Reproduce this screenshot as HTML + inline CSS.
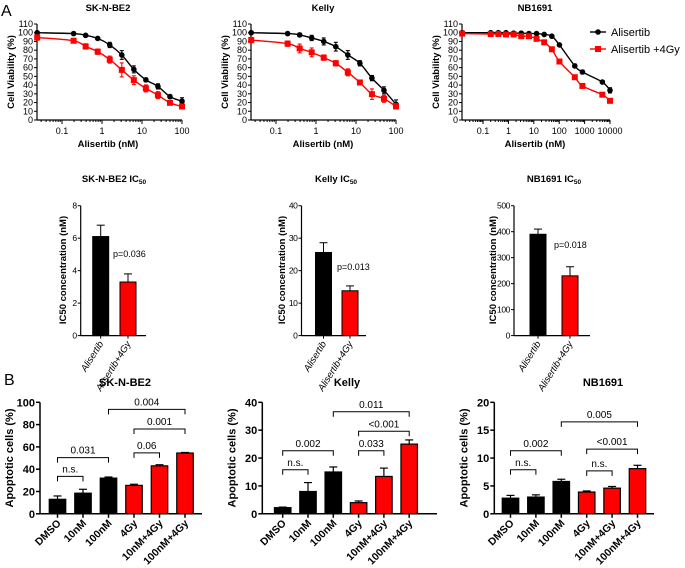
<!DOCTYPE html>
<html><head><meta charset="utf-8"><style>
html,body{margin:0;padding:0;background:#fff;}
svg{display:block;font-family:"Liberation Sans",Arial,sans-serif;}
</style></head><body>
<svg id="fig" width="685" height="568" viewBox="0 0 685 568" xmlns="http://www.w3.org/2000/svg"></svg>
<script>
// ---------- Panel A top: dose-response data ----------
const skDoses=[0.024,0.195,0.39,0.78,1.56,3.125,6.25,12.5,25,50,100];
const skBlack=[100,99,97,93.5,86,74.5,58,46,38.5,26.8,21.5];
const skBlackErr=[1,1,1,1.5,3,5,4,2,3,2,4];
const skRed=[94.5,90.8,84.3,78.3,69.2,57.4,45.6,36.2,28.5,19.7,15.5];
const skRedErr=[3,2,3,3,4,8,5,4,4,2,2];
const kellyDoses=[0.024,0.195,0.39,0.78,1.56,3.125,6.25,12.5,25,50,100];
const kellyBlack=[100,99,97.5,94,90,84,74.5,65,48,34,18];
const kellyBlackErr=[1,1,2,3,4,5,5,3,3,4,5];
const kellyRed=[91.6,87.5,82,77.5,71.5,65,54.6,43,29.6,24.3,15.7];
const kellyRedErr=[3,3,5,5,3,3,4,2,6,4,3];
const nbDoses=[0.015,0.2,0.4,0.8,1.6,3.2,6.4,12.8,25.6,51.2,102,410,820,5000,10000];
const nbBlack=[100,100,100,100,99.5,99.5,99,99,98,96,86,62,55,43.5,34];
const nbBlackErr=[1,1,1,1,1,1,1,1,1,1,1,2,2,1,3];
const nbRed=[99,98.5,98.5,98,98,96,96,93,89,81,67,49,39,29,22];
const nbRedErr=[1,1,1,1,1,1,1,1,1,1,1,2,2,1,1];
const vTicks=[0,10,20,30,40,50,60,70,80,90,100,110];
const skDecades=[0.1,1,10,100];
const nbDecades=[0.1,1,10,100,1000,10000];

// ---------- IC50 data ----------
const icGroups=["Alisertib","Alisertib+4Gy"];
const icSK=[6.1,3.3]; const icSKErr=[0.7,0.5]; const icSKTicks=[0,2,4,6,8];
const icKelly=[25.6,13.8]; const icKellyErr=[3,1.5]; const icKellyTicks=[0,10,20,30,40];
const icNB=[390,230]; const icNBErr=[20,35]; const icNBTicks=[0,100,200,300,400,500];

// ---------- Panel B apoptosis data ----------
const apGroups=["DMSO","10nM","100nM","4Gy","10nM+4Gy","100nM+4Gy"];
const apSK=[13,18.5,32,25.5,43,54.5]; const apSKErr=[3,3.5,1,1,1,0.5];
const apSKTicks=[0,20,40,60,80,100];
const apSKBr=[[0,1,33.6,"n.s."],[0,2,50.4,"0.031"],[3,4,54.6,"0.06"],[3,5,76,"0.001"],[2,5,93.7,"0.004"]];
const apKelly=[2.2,8,15,4,13.4,25]; const apKellyErr=[0.2,3.2,1.8,0.6,3,1.5];
const apKellyTicks=[0,10,20,30,40];
const apKellyBr=[[0,1,15.8,"n.s."],[0,2,22.6,"0.002"],[3,4,22.6,"0.033"],[3,5,29.6,"<0.001"],[2,5,36.6,"0.011"]];
const apNB=[2.8,3.0,5.8,3.9,4.6,8.1]; const apNBErr=[0.5,0.4,0.4,0.2,0.3,0.6];
const apNBTicks=[0,5,10,15,20];
const apNBBr=[[0,1,7.9,"n.s."],[0,2,11.3,"0.002"],[3,4,7.7,"n.s."],[3,5,11.6,"<0.001"],[2,5,16.5,"0.005"]];

const NS='http://www.w3.org/2000/svg';
const svg=document.getElementById('fig');
function add(tag,attrs,nm,parent){
  const el=document.createElementNS(NS,tag);
  for(const k in attrs) el.setAttribute(k,attrs[k]);
  
  
  (parent||svg).appendChild(el);
  return el;
}
function txt(x,y,s,size,extra,nm){
  const a=Object.assign({x:x,y:y,'font-size':size,fill:'#000'},extra||{});
  const t=add('text',a,nm);
  t.textContent=s;
  return t;
}
function line(x1,y1,x2,y2,nm,w,c){
  return add('line',{x1:x1,y1:y1,x2:x2,y2:y2,stroke:c||'#000','stroke-width':w||1},nm);
}
function smooth(p){
  let d='M'+p[0][0]+','+p[0][1];
  for(let i=0;i<p.length-1;i++){
    const p0=p[Math.max(i-1,0)],p1=p[i],p2=p[i+1],p3=p[Math.min(i+2,p.length-1)];
    d+=' C'+(p1[0]+(p2[0]-p0[0])/6)+','+(p1[1]+(p2[1]-p0[1])/6)+' '+(p2[0]-(p3[0]-p1[0])/6)+','+(p2[1]-(p3[1]-p1[1])/6)+' '+p2[0]+','+p2[1];
  }
  return d;
}

// ---------- Dose-response panel ----------
function drawDR(c){
  const yTop=24,yBot=120;
  const lmin=Math.log10(c.vmin),lmax=Math.log10(c.vmax);
  const X=v=>c.x0+(Math.log10(v)-lmin)/(lmax-lmin)*(c.x1-c.x0);
  const Y=v=>yBot-(v/110)*(yBot-yTop);
  line(c.x0,yTop,c.x0,yBot,'y-axis',1.2);
  line(c.x0,yBot,c.x1,yBot,'x-axis',1.2);
  vTicks.forEach(v=>{
    line(c.x0-3,Y(v),c.x0,Y(v),'y-tick');
    txt(c.x0-4,Y(v)+3,String(v),9,{'text-anchor':'end'},'y-tick-label');
  });
  for(let e=Math.floor(lmin);e<=lmax;e++){
    for(let m=1;m<10;m++){
      const v=m*Math.pow(10,e);
      if(v<c.vmin||v>c.vmax*1.001) continue;
      line(X(v),yBot,X(v),yBot+(m==1?4:2),'x-tick');
    }
  }
  c.decades.forEach(v=>txt(X(v),yBot+14,String(v),9,{'text-anchor':'middle'},'x-tick-label'));
  txt(c.tx,11,c.title,9.5,{'font-weight':'bold','text-anchor':'middle'},'chart-title');
  txt(c.tx,147,'Alisertib (nM)',9.5,{'font-weight':'bold','text-anchor':'middle'},'x-axis-title');
  txt(0,0,'Cell Viability (%)',9.5,{'font-weight':'bold','text-anchor':'middle',transform:'translate('+(c.x0-23)+',72) rotate(-90)'},'y-axis-title');
  [[c.black,c.blackErr,'#000','black'],[c.red,c.redErr,'#f00','red']].forEach(s=>{
    const pts=c.doses.map((d,i)=>[X(d),Y(s[0][i])]);
    add('path',{d:smooth(pts),fill:'none',stroke:s[2],'stroke-width':1.4},s[3]+'-fit-curve');
    c.doses.forEach((d,i)=>{
      const x=X(d),v=s[0][i],e=s[1][i];
      line(x,Y(v+e),x,Y(v-e),s[3]+'-error-bar',1.1,s[2]);
      line(x-2,Y(v+e),x+2,Y(v+e),s[3]+'-error-cap',1.1,s[2]);
      line(x-2,Y(v-e),x+2,Y(v-e),s[3]+'-error-cap',1.1,s[2]);
      if(s[3]=='black') add('circle',{cx:x,cy:Y(v),r:2.8,fill:'#000'},'black-point');
      else add('rect',{x:x-3,y:Y(v)-3,width:6,height:6,fill:'#f00'},'red-point');
    });
  });
}
drawDR({x0:37,x1:182,vmin:0.0237,vmax:100,doses:skDoses,black:skBlack,blackErr:skBlackErr,red:skRed,redErr:skRedErr,decades:skDecades,title:'SK-N-BE2',tx:108});
drawDR({x0:251,x1:396,vmin:0.0237,vmax:100,doses:kellyDoses,black:kellyBlack,blackErr:kellyBlackErr,red:kellyRed,redErr:kellyRedErr,decades:skDecades,title:'Kelly',tx:323});
drawDR({x0:462,x1:610,vmin:0.0148,vmax:10000,doses:nbDoses,black:nbBlack,blackErr:nbBlackErr,red:nbRed,redErr:nbRedErr,decades:nbDecades,title:'NB1691',tx:535});

// legend
line(590,32,606,32,'legend-black-line',1.4);
add('circle',{cx:598,cy:32,r:2.8,fill:'#000'},'legend-black-marker');
txt(611,36,'Alisertib',11,{},'legend-label-alisertib');
line(590,49,606,49,'legend-red-line',1.4,'#f00');
add('rect',{x:595,y:46,width:6,height:6,fill:'#f00'},'legend-red-marker');
txt(611,53,'Alisertib +4Gy',11,{},'legend-label-alisertib-4gy');
txt(1,16,'A',16,{},'panel-label-a');
txt(4,385,'B',16,{},'panel-label-b');

// ---------- IC50 bar panels ----------
function drawIC(c){
  const yTop=205.7,yBot=335.6;
  const vmax=c.ticks[c.ticks.length-1];
  const Y=v=>yBot-v/vmax*(yBot-yTop);
  line(c.ax,yTop,c.ax,yBot,'y-axis',1.2);
  line(c.ax,yBot,c.right,yBot,'x-axis',1.2);
  c.ticks.forEach(v=>{
    line(c.ax-3,Y(v),c.ax,Y(v),'y-tick');
    txt(c.ax-4,Y(v)+3,String(v),8.5,{'text-anchor':'end','letter-spacing':'-0.4'},'y-tick-label');
  });
  txt(c.tx,182,c.title,9.5,{'font-weight':'bold','text-anchor':'middle'},'chart-title').innerHTML=c.title+'<tspan font-size="6.5" dy="2">50</tspan>';
  txt(0,0,'IC50 concentration (nM)',9.5,{'font-weight':'bold','text-anchor':'middle',transform:'translate('+c.yt+',270) rotate(-90)'},'y-axis-title');
  c.vals.forEach((v,i)=>{
    const cx=c.centers[i],w=16,col=i==0?'#000':'#f00';
    add('rect',{x:cx-w/2,y:Y(v),width:w,height:yBot-Y(v),fill:col,stroke:'#000','stroke-width':1},'bar-'+icGroups[i].toLowerCase().replace('+','-'));
    line(cx,Y(v),cx,Y(v+c.errs[i]),'error-bar');
    line(cx-4,Y(v+c.errs[i]),cx+4,Y(v+c.errs[i]),'error-cap');
    line(cx,yBot,cx,yBot+3,'x-tick');
    txt(0,0,icGroups[i],9.5,{'font-style':'italic','text-anchor':'end',transform:'translate('+(cx+3)+','+(yBot+8)+') rotate(-58)'},'x-tick-label');
  });
  txt(c.px,c.py,c.p,9,{},'p-value');
}
drawIC({ax:80.7,right:146,centers:[100.7,128],vals:icSK,errs:icSKErr,ticks:icSKTicks,title:'SK-N-BE2 IC',tx:114,yt:66,p:'p=0.036',px:113,py:257});
drawIC({ax:301.5,right:366,centers:[323.5,350],vals:icKelly,errs:icKellyErr,ticks:icKellyTicks,title:'Kelly IC',tx:336,yt:285,p:'p=0.013',px:337,py:270});
drawIC({ax:514,right:590,centers:[538,570],vals:icNB,errs:icNBErr,ticks:icNBTicks,title:'NB1691 IC',tx:554,yt:496,p:'p=0.018',px:554,py:248});

// ---------- Apoptosis bar panels ----------
function drawAP(c){
  const yTop=402.3,yBot=513.8;
  const vmax=c.ticks[c.ticks.length-1];
  const Y=v=>yBot-v/vmax*(yBot-yTop);
  const Xc=i=>c.c0+c.sp*i;
  line(c.ax,yTop,c.ax,yBot,'y-axis',1.5);
  line(c.ax,yBot,c.right,yBot,'x-axis',1.5);
  c.ticks.forEach(v=>{
    line(c.ax-4,Y(v),c.ax,Y(v),'y-tick',1.5);
    txt(c.ax-5,Y(v)+4,String(v),11,{'text-anchor':'end','font-weight':'bold'},'y-tick-label');
  });
  txt(c.tx,386,c.title,11,{'font-weight':'bold','text-anchor':'middle'},'chart-title');
  txt(0,0,'Apoptotic cells (%)',11,{'font-weight':'bold','text-anchor':'middle',transform:'translate('+(c.ax-27)+',458) rotate(-90)'},'y-axis-title');
  c.vals.forEach((v,i)=>{
    const cx=Xc(i),w=16.5,col=i<3?'#000':'#f00';
    add('rect',{x:cx-w/2,y:Y(v),width:w,height:yBot-Y(v),fill:col,stroke:'#000','stroke-width':1.2},'bar-'+apGroups[i].toLowerCase().replace('+','-'));
    line(cx,Y(v),cx,Y(v+c.errs[i]),'error-bar',1.2);
    line(cx-4,Y(v+c.errs[i]),cx+4,Y(v+c.errs[i]),'error-cap',1.2);
    line(cx,yBot,cx,yBot+4,'x-tick',1.5);
    txt(0,0,apGroups[i],10.5,{'font-weight':'bold','text-anchor':'end',transform:'translate('+(cx+4)+','+(yBot+10)+') rotate(-45)'},'x-tick-label');
  });
  c.br.forEach(b=>{
    const y=Y(b[2]),xa=Xc(b[0]),xb=Xc(b[1]);
    add('path',{d:'M'+xa+','+(y+5)+' V'+y+' H'+xb+' V'+(y+5),fill:'none',stroke:'#000','stroke-width':1},'significance-bracket');
    txt((xa+xb)/2,y-4,b[3],10,{'text-anchor':'middle'},'significance-label');
  });
}
drawAP({ax:40,right:202,c0:57.5,sp:25.5,vals:apSK,errs:apSKErr,ticks:apSKTicks,br:apSKBr,title:'SK-N-BE2',tx:125});
drawAP({ax:262.3,right:437,c0:282.7,sp:25.3,vals:apKelly,errs:apKellyErr,ticks:apKellyTicks,br:apKellyBr,title:'Kelly',tx:347});
drawAP({ax:494.3,right:654,c0:510.5,sp:25.4,vals:apNB,errs:apNBErr,ticks:apNBTicks,br:apNBBr,title:'NB1691',tx:603});
</script>
</body></html>
